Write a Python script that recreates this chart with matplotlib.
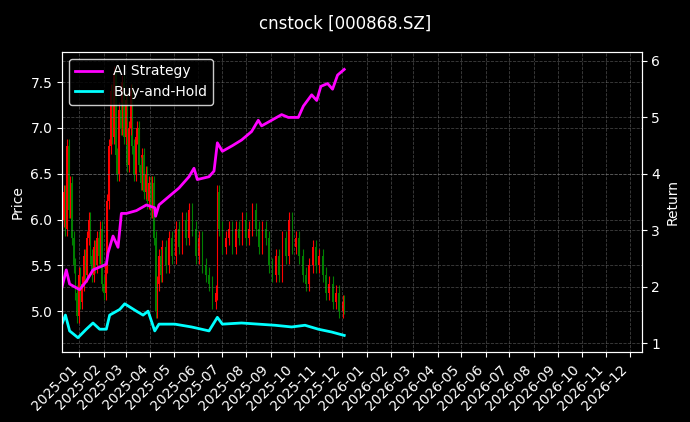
import matplotlib
matplotlib.use("Agg")
import matplotlib.pyplot as plt
import matplotlib.dates as mdates
import pandas as pd
import numpy as np

plt.style.use("dark_background")

price_days = [0,2,4,6,8,10,12,14,16,18,20,22,24,26,28,30,32,34,36,38,40,42,44,46,48,50,52,54,56,58,60,62,64,66,68,70,72,74,76,78,80,82,84,86,88,90,92,94,96,98,100,102,104,106,108,110,112,114,116,118,120,124,128,132,136,140,144,148,152,156,160,164,168,172,176,180,184,186,188,192,196,200,204,208,212,216,220,224,228,232,236,240,244,248,252,256,260,264,268,272,276,280,284,288,292,296,300,304,308,312,316,320,324,328,332,336,338]
price_close = [6.0,6.3,5.9,6.8,6.1,6.4,5.8,5.5,5.2,4.95,5.4,5.1,5.3,5.6,5.4,5.8,6.0,5.6,5.4,5.7,5.5,5.8,5.6,5.9,5.3,5.2,5.5,6.2,6.8,7.4,6.9,7.6,6.7,6.5,7.2,7.0,7.5,6.9,7.3,6.6,7.0,7.4,6.8,6.5,6.9,7.0,6.6,6.4,6.7,6.3,6.5,6.2,6.4,6.1,6.4,5.8,5.0,5.3,5.6,5.4,5.7,5.5,5.8,5.6,5.9,5.7,6.0,5.8,6.1,5.9,5.6,5.8,5.5,5.4,5.3,5.1,5.2,6.3,5.9,5.7,5.8,5.9,5.7,5.9,5.8,6.0,5.8,5.9,6.1,5.9,5.7,5.9,5.8,5.5,5.4,5.6,5.4,5.8,5.6,6.0,5.7,5.8,5.6,5.4,5.3,5.5,5.7,5.5,5.6,5.4,5.2,5.3,5.1,5.2,5.0,5.1,5.05]

ai_days = [0,5,9,21,29,37,45,53,55,61,67,71,77,89,101,111,112,116,128,140,152,158,162,176,182,186,192,204,215,227,235,239,251,263,271,283,289,299,305,310,318,324,330,338]
ai_ret = [2.0,2.3,2.05,1.95,2.1,2.3,2.35,2.4,2.6,2.9,2.7,3.3,3.3,3.35,3.45,3.4,3.25,3.45,3.6,3.75,3.95,4.1,3.9,3.95,4.05,4.55,4.4,4.5,4.6,4.75,4.95,4.85,4.95,5.05,5.0,5.0,5.2,5.4,5.3,5.55,5.6,5.5,5.75,5.85]

bh_days = [0,4,9,19,29,37,45,53,57,69,75,89,97,103,111,116,135,155,176,186,192,215,235,255,275,291,307,323,338]
bh_ret = [1.35,1.5,1.22,1.1,1.25,1.36,1.25,1.25,1.5,1.6,1.7,1.57,1.5,1.57,1.22,1.34,1.34,1.29,1.22,1.46,1.34,1.36,1.34,1.32,1.29,1.32,1.25,1.2,1.14]

start = pd.Timestamp("2024-12-10")
DAY_SCALE = 1.06

def to_dates(days):
    return start + pd.to_timedelta(np.array(days) * DAY_SCALE, unit="D")

pdates = to_dates(price_days)
adates = to_dates(ai_days)
bdates = to_dates(bh_days)

fig, ax = plt.subplots(figsize=(6.9, 4.22), dpi=100)
fig.patch.set_facecolor("black")
ax.set_facecolor("black")

closes = np.array(price_close)
opens = np.concatenate([[closes[0] - 0.1], closes[:-1]])
highs = np.maximum(opens, closes) + 0.08
lows = np.minimum(opens, closes) - 0.08
xn = mdates.date2num(pdates)
for x, o, c, h, l in zip(xn, opens, closes, highs, lows):
    col = "red" if c >= o else "green"
    ax.vlines(x, l, h, color=col, lw=0.8)
    ax.bar(x, abs(c - o), bottom=min(o, c), width=2.0, color=col, edgecolor=col, lw=0)

ax.set_ylim(4.55, 7.83)
ax.set_ylabel("Price")
ax.grid(True, ls="--", color="gray", alpha=0.5, lw=0.6)
ax.set_xlim(mdates.date2num(start), mdates.date2num(pd.Timestamp("2026-12-16")))
ax.xaxis.set_major_locator(mdates.MonthLocator())
ax.xaxis.set_major_formatter(mdates.DateFormatter("%Y-%m"))
plt.setp(ax.get_xticklabels(), rotation=45, ha="right")

ax2 = ax.twinx()
ax2.plot(adates, ai_ret, color="magenta", lw=2, label="AI Strategy")
ax2.plot(bdates, bh_ret, color="cyan", lw=2, label="Buy-and-Hold")
ax2.set_ylim(0.84, 6.16)
ax2.set_ylabel("Return")
ax2.grid(True, ls="--", color="gray", alpha=0.5, lw=0.6)
leg = ax2.legend(loc="upper left", facecolor="black", edgecolor="white")

fig.suptitle("cnstock [000868.SZ]", color="white", y=0.965)
fig.subplots_adjust(left=0.09, right=0.93, top=0.877, bottom=0.165)
fig.savefig("out.png", dpi=100, facecolor="black")
